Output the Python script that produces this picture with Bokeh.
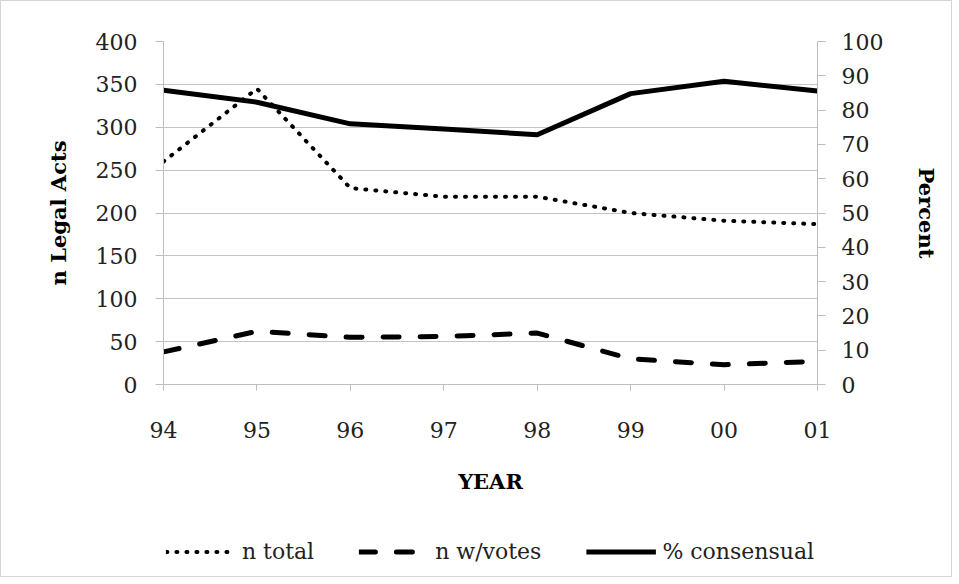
from bokeh.plotting import figure
from bokeh.models import (Range1d, LinearAxis, FixedTicker, Legend, LegendItem)
from bokeh.layouts import column
from bokeh.embed import file_html
from bokeh.resources import INLINE

years = ["94", "95", "96", "97", "98", "99", "00", "01"]
n_total = [260, 345, 229, 219, 219, 200, 191, 187]
n_votes = [38, 62, 55, 56, 60, 30, 23, 27]
pct_consensual = [85.8, 82.3, 76.0, 74.5, 72.8, 84.8, 88.4, 85.6]
series_labels = ["n total", "n w/votes", "% consensual"]

FONT = "DejaVu Serif"
xs = list(range(len(years)))

W = 950
p = figure(width=W, height=509, output_backend="svg", toolbar_location=None,
           x_range=Range1d(0, len(years) - 1), y_range=Range1d(0, 400),
           min_border_left=162, min_border_right=134, min_border_top=40,
           min_border_bottom=126)
p.outline_line_color = None
p.extra_y_ranges = {"pct": Range1d(0, 100)}

ya = p.yaxis[0]
ya.ticker = FixedTicker(ticks=list(range(0, 401, 50)))
ya.axis_label = "n Legal Acts"
xa = p.xaxis[0]
xa.ticker = FixedTicker(ticks=xs)
xa.major_label_overrides = {i: y for i, y in enumerate(years)}
xa.axis_label = "YEAR"

ra = LinearAxis(y_range_name="pct", ticker=FixedTicker(ticks=list(range(0, 101, 10))),
                axis_label="Percent")
p.add_layout(ra, "right")

for ax in (ya, xa, ra):
    ax.axis_line_color = "#bdbdbd"
    ax.major_tick_line_color = "#bdbdbd"
    ax.minor_tick_line_color = None
    ax.major_tick_in = 0
    ax.major_tick_out = 8
    ax.major_label_text_font = FONT
    ax.major_label_text_font_size = "22px"
    ax.major_label_text_color = "#222222"
    ax.axis_label_text_font = FONT
    ax.axis_label_text_font_size = "21px"
    ax.axis_label_text_font_style = "bold"
    ax.axis_label_text_color = "#000000"

ya.major_label_standoff = 18
ra.major_label_standoff = 16
xa.major_tick_out = 6
xa.major_label_standoff = 31
xa.axis_label_standoff = 28
ya.axis_label_standoff = 22
ra.axis_label_standoff = 28

p.xgrid.grid_line_color = None
p.ygrid.grid_line_color = "#c4c4c4"
p.ygrid.grid_line_width = 1

styles = [dict(line_width=4, line_dash="1 9", line_cap="round"),
          dict(line_width=5, line_dash="16 21", line_cap="round"),
          dict(line_width=5)]
series = [n_total, n_votes, pct_consensual]

p.line(xs, n_total, line_color="black", **styles[0])
p.line(xs, n_votes, line_color="black", **styles[1])
p.line(xs, pct_consensual, y_range_name="pct", line_color="black", **styles[2])

# legend strip below the chart (hidden copies of the series supply the key glyphs)
lf = figure(width=W, height=66, output_backend="svg", toolbar_location=None,
            x_axis_type=None, y_axis_type=None, x_range=Range1d(0, 1),
            y_range=Range1d(0, 1), min_border_left=42, min_border_right=0,
            min_border_top=16, min_border_bottom=0)
lf.outline_line_color = None
lf.xgrid.grid_line_color = None
lf.ygrid.grid_line_color = None
items = []
for lab, st, ys in zip(series_labels, styles, series):
    r = lf.line(xs, ys, line_color="black", visible=False, **st)
    items.append(LegendItem(label=lab, renderers=[r]))
legend = Legend(items=items, orientation="horizontal", location="center",
                label_text_font=FONT, label_text_font_size="22px",
                label_text_color="#222222",
                glyph_width=70, label_standoff=6, spacing=45,
                border_line_color=None, background_fill_alpha=0,
                inactive_fill_alpha=0,
                padding=4, margin=0)
lf.add_layout(legend, "center")

layout = column(p, lf, spacing=0)
layout.styles = {"border": "1px solid #d4d4d4"}

open("out.html", "w").write(file_html(layout, INLINE))
